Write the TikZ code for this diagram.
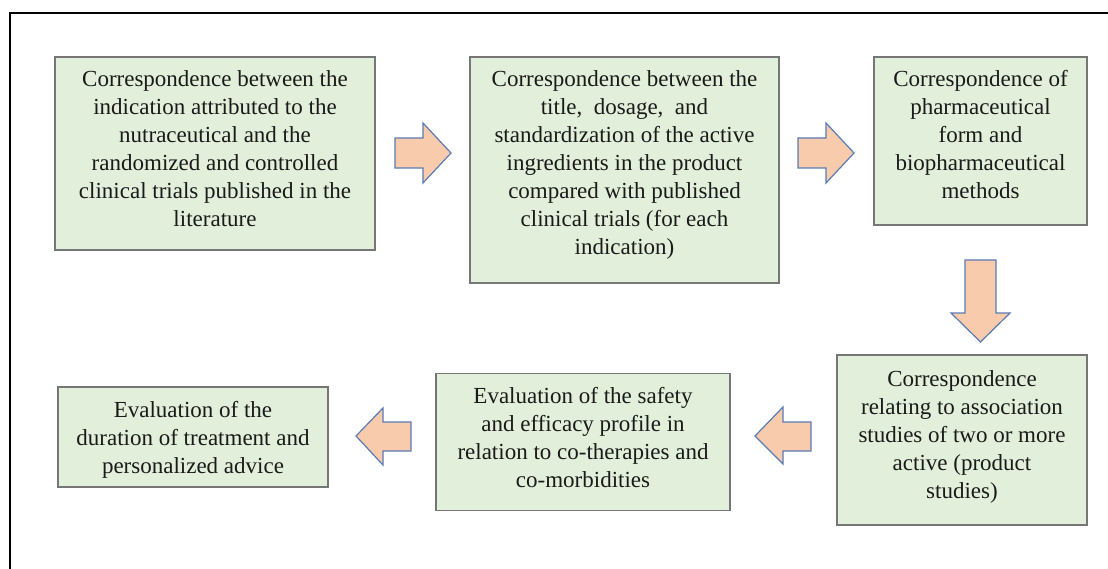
\documentclass[tikz,border=0pt]{standalone}
\usepackage{fontspec}
\setmainfont{Liberation Serif}
\definecolor{boxfill}{HTML}{E2EFDA}
\definecolor{boxline}{HTML}{767676}
\definecolor{arrfill}{HTML}{F8CBAD}
\definecolor{arrline}{HTML}{5B7BB5}
\definecolor{txtcol}{HTML}{1A1A1A}
\tikzset{
  stepbox/.style={draw=boxline, line width=1.3pt, fill=boxfill, inner sep=0pt},
  steptxt/.style={inner sep=0pt, align=center, anchor=north, text=txtcol,
     font=\fontsize{23}{28}\selectfont},
  blockarrow/.style={draw=arrline, line width=1.2pt, fill=arrfill, line join=miter},
}
\begin{document}
\begin{tikzpicture}[x=1pt,y=-1pt]
\useasboundingbox (0,0) rectangle (1108,569);
\fill[white] (0,0) rectangle (1108,569);
% frame
\draw[line width=2pt] (1108,13) -- (10,13) -- (10,569);

% boxes
\node[stepbox, minimum width=320, minimum height=193] (b1) at (215,153.5) {};
\node[stepbox, minimum width=309, minimum height=226] (b2) at (624.5,170) {};
\node[stepbox, minimum width=213, minimum height=168] (b3) at (980.5,141) {};
\node[stepbox, minimum width=250, minimum height=170] (b4) at (962,440) {};
\node[stepbox, minimum width=294, minimum height=137] (b5) at (583,442) {};
\node[stepbox, minimum width=270, minimum height=100] (b6) at (193,437) {};

% texts
\node[steptxt] (t1) at ([yshift=-14]b1.north) {Correspondence between the\\indication attributed to the\\nutraceutical and the\\randomized and controlled\\clinical trials published in the\\literature};
\node[steptxt] (t2) at ([yshift=-14]b2.north) {Correspondence between the\\title,\ \ dosage,\ \ and\\standardization of the active\\ingredients in the product\\compared with published\\clinical trials (for each\\indication)};
\node[steptxt] (t3) at ([yshift=-14]b3.north) {Correspondence of\\pharmaceutical\\form and\\biopharmaceutical\\methods};
\node[steptxt] (t4) at ([yshift=-16]b4.north) {Correspondence\\relating to association\\studies of two or more\\active (product\\studies)};
\node[steptxt] (t5) at ([yshift=-14]b5.north) {Evaluation of the safety\\and efficacy profile in\\relation to co-therapies and\\co-morbidities};
\node[steptxt] (t6) at ([yshift=-15]b6.north) {Evaluation of the\\duration of treatment and\\personalized advice};

% block arrows
\draw[blockarrow] (395,138) -- (423,138) -- (423,123) -- (451,153) -- (423,183) -- (423,168) -- (395,168) -- cycle;
\draw[blockarrow] (798,138) -- (826,138) -- (826,123) -- (854,153) -- (826,183) -- (826,168) -- (798,168) -- cycle;
\draw[blockarrow] (965,260) -- (996,260) -- (996,313) -- (1010,313) -- (980.5,342) -- (951,313) -- (965,313) -- cycle;
\draw[blockarrow] (811,422) -- (783,422) -- (783,407) -- (755,436) -- (783,464) -- (783,451) -- (811,451) -- cycle;
\draw[blockarrow] (411,422) -- (383,422) -- (383,408) -- (356,436) -- (383,465) -- (383,451) -- (411,451) -- cycle;
\end{tikzpicture}
\end{document}
